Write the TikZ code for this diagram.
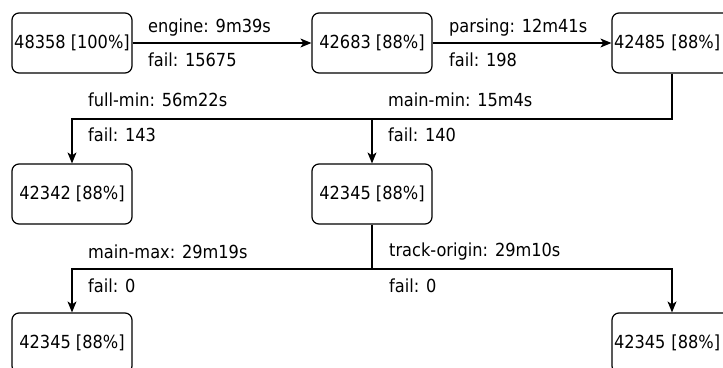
\documentclass[tikz,border=0pt]{standalone}
\usepackage{fontspec}
\setmainfont{DejaVu Sans Condensed}
\usetikzlibrary{arrows.meta}
\begin{document}
\begin{tikzpicture}[x=1pt,y=-1pt,
  box/.style={draw,line width=1.2pt,rounded corners=7pt,minimum width=120pt,minimum height=60pt,inner sep=0pt,font=\fontsize{18}{21}\selectfont},
  lbl/.style={anchor=west,inner sep=0pt,font=\fontsize{18}{21}\selectfont},
  conn/.style={line width=1.2pt,-{Stealth[length=11pt,width=9pt,inset=3pt]}},
]
\useasboundingbox[fill=white] (0,0) rectangle (723,367);
\node[box] (b1) at (72,43) {48358 [100\%]};
\node[box] (b2) at (372,43) {42683 [88\%]};
\node[box,text width=116pt,align=left] (b3) at (672,43) {42485 [88\%]};
\node[box] (b4) at (72,194) {42342 [88\%]};
\node[box] (b5) at (372,194) {42345 [88\%]};
\node[box] (b6) at (72,343) {42345 [88\%]};
\node[box,text width=116pt,align=left] (b7) at (672,343) {42345 [88\%]};

\coordinate (j1) at (672,119);
\coordinate (j2) at (372,269);

\draw[conn] (b1) -- (b2);
\draw[conn] (b2) -- (b3);
\draw[conn] (b3.south) -- (j1) -| (b4.north);
\draw[conn] (j1) -| (b5.north);
\draw[conn] (b5.south) -- (j2) -| (b6.north);
\draw[conn] (j2) -| (b7.north);

\node[lbl] (l1) at (148,28) {engine: 9m39s};
\node[lbl] (l2) at (148,60) {fail: 15675};
\node[lbl] (l3) at (449,28) {parsing: 12m41s};
\node[lbl] (l4) at (449,60) {fail: 198};
\node[lbl] (l5) at (88,100) {full-min: 56m22s};
\node[lbl] (l6) at (88,135) {fail: 143};
\node[lbl] (l7) at (388,100) {main-min: 15m4s};
\node[lbl] (l8) at (388,135) {fail: 140};
\node[lbl] (l9) at (88,252) {main-max: 29m19s};
\node[lbl] (l10) at (88,286) {fail: 0};
\node[lbl] (l11) at (389,252) {track-origin: 29m10s};
\node[lbl] (l12) at (389,286) {fail: 0};
\end{tikzpicture}
\end{document}
